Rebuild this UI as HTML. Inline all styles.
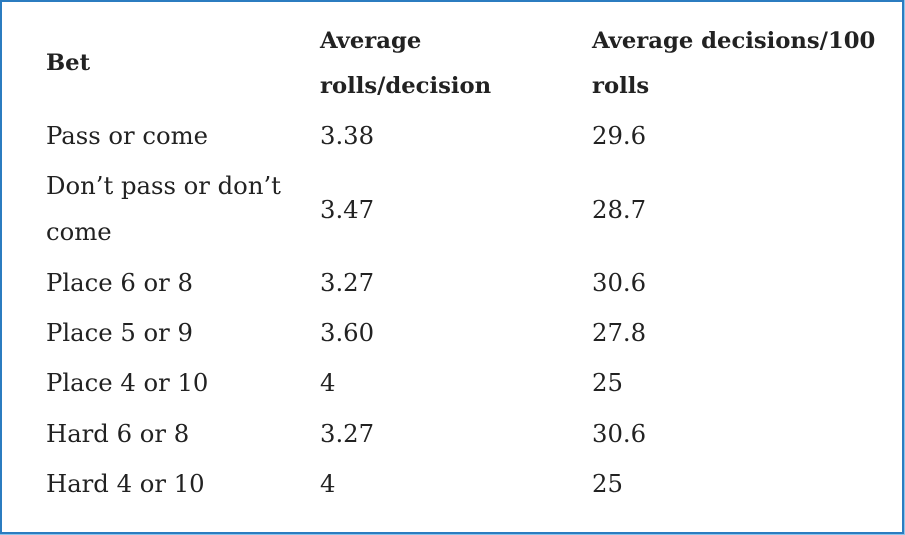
<!DOCTYPE html>
<html><head><style>
body{margin:0;width:905px;height:535px;background:#fff;overflow:hidden}
.f{position:absolute;left:0;top:0;width:900px;height:530px;border:2px solid #2b7cc0;outline:1px solid #8cc4ec}
.t{position:absolute;font-family:"DejaVu Serif","Liberation Serif",serif;font-size:24.3px;color:#222;line-height:30px;height:30px;white-space:nowrap}
.b{font-weight:bold;font-size:22.7px}
</style></head><body>
<div class="f"></div>
<div class="t b" style="left:46px;top:48px">Bet</div>
<div class="t b" style="left:320px;top:26px">Average</div>
<div class="t b" style="left:320px;top:71px">rolls/decision</div>
<div class="t b" style="left:592px;top:26px">Average decisions/100</div>
<div class="t b" style="left:592px;top:71px">rolls</div>

<div class="t" style="left:46px;top:121px">Pass or come</div>
<div class="t" style="left:320px;top:121px">3.38</div>
<div class="t" style="left:592px;top:121px">29.6</div>

<div class="t" style="left:46px;top:171px">Don’t pass or don’t</div>
<div class="t" style="left:46px;top:217px">come</div>
<div class="t" style="left:320px;top:195px">3.47</div>
<div class="t" style="left:592px;top:195px">28.7</div>

<div class="t" style="left:46px;top:268px">Place 6 or 8</div>
<div class="t" style="left:320px;top:268px">3.27</div>
<div class="t" style="left:592px;top:268px">30.6</div>

<div class="t" style="left:46px;top:318px">Place 5 or 9</div>
<div class="t" style="left:320px;top:318px">3.60</div>
<div class="t" style="left:592px;top:318px">27.8</div>

<div class="t" style="left:46px;top:368px">Place 4 or 10</div>
<div class="t" style="left:320px;top:368px">4</div>
<div class="t" style="left:592px;top:368px">25</div>

<div class="t" style="left:46px;top:419px">Hard 6 or 8</div>
<div class="t" style="left:320px;top:419px">3.27</div>
<div class="t" style="left:592px;top:419px">30.6</div>

<div class="t" style="left:46px;top:469px">Hard 4 or 10</div>
<div class="t" style="left:320px;top:469px">4</div>
<div class="t" style="left:592px;top:469px">25</div>
</body></html>
